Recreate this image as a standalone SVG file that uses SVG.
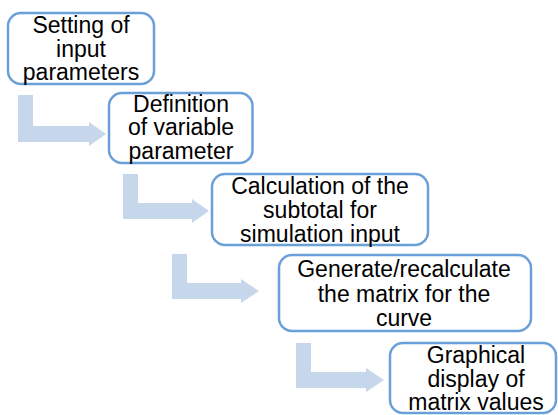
<svg xmlns="http://www.w3.org/2000/svg" width="558" height="415" viewBox="0 0 558 415">
<style>
.box{fill:#ffffff;stroke:#6a9fd8;stroke-width:2.5}
.arr{fill:#c6d6eb;stroke:none}
text{font-family:"Liberation Sans",Arial,sans-serif;font-size:23px;fill:#000000;text-anchor:middle}
</style>
<rect width="558" height="415" fill="#ffffff"/>
<g id="connectors">
<path class="arr" d="M18,95 H33 V126 H89 V122 L106,134 L89,146 V142 H18 Z"/>
<path class="arr" d="M123,174 H138 V203 H192 V199 L209,211 L192,223 V219 H123 Z"/>
<path class="arr" d="M172,254 H187 V283 H241 V279 L259,291 L241,303 V299 H172 Z"/>
<path class="arr" d="M296,343 H311 V372 H366 V368 L384,380 L366,392 V388 H296 Z"/>
</g>
<g id="node1">
<rect class="box" x="8" y="13" width="146" height="71" rx="13"/>
<text x="81" y="33">Setting of</text>
<text x="81" y="56.5">input</text>
<text x="81" y="80">parameters</text>
</g>
<g id="node2">
<rect class="box" x="109" y="93" width="143.5" height="70" rx="13"/>
<text x="181" y="111.5">Definition</text>
<text x="181" y="135">of variable</text>
<text x="181" y="158.5">parameter</text>
</g>
<g id="node3">
<rect class="box" x="212" y="174" width="216" height="71" rx="13"/>
<text x="320" y="194">Calculation of the</text>
<text x="320" y="218">subtotal for</text>
<text x="320" y="241.5">simulation input</text>
</g>
<g id="node4">
<rect class="box" x="279" y="255" width="252" height="76" rx="13"/>
<text x="404" y="277">Generate/recalculate</text>
<text x="404" y="302">the matrix for the</text>
<text x="404" y="326">curve</text>
</g>
<g id="node5">
<rect class="box" x="390" y="343" width="166" height="70" rx="13"/>
<text x="476" y="363">Graphical</text>
<text x="476" y="386.5">display of</text>
<text x="476" y="410">matrix values</text>
</g>
</svg>
